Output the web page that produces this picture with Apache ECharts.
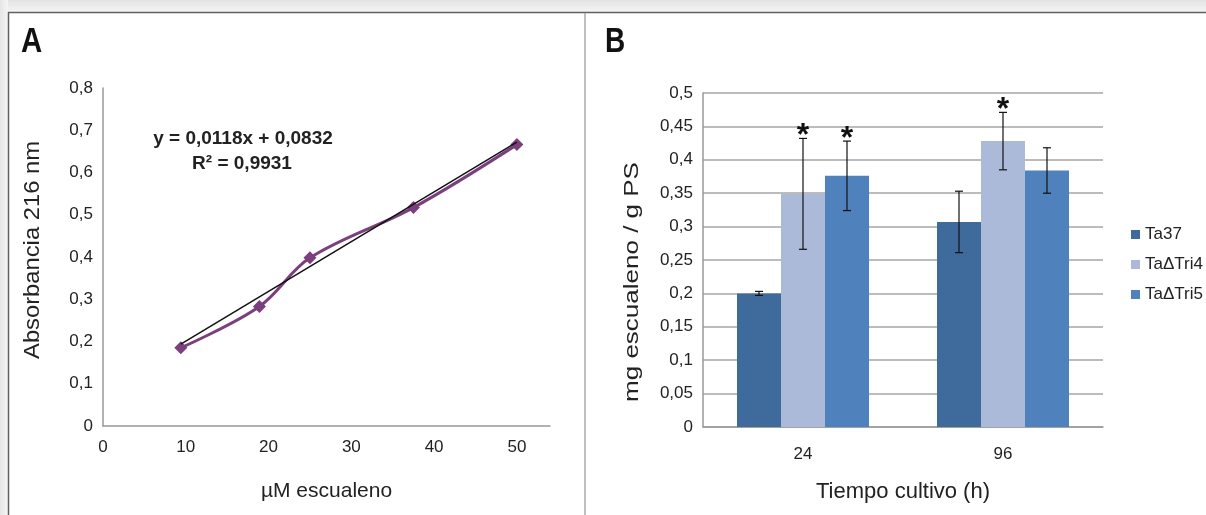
<!DOCTYPE html>
<html>
<head>
<meta charset="utf-8">
<script src="https://cdn.jsdelivr.net/npm/echarts@6/dist/echarts.min.js"></script>
<style>
  html, body { margin: 0; padding: 0; background: #fff; }
  #main { width: 1206px; height: 515px; }
</style>
</head>
<body>
<div id="main"></div>
<script>
// ---- panel A: calibración escualeno ----
var concX = [9.4, 18.9, 25, 37.5, 50];          // µM escualeno
var absY = [0.185, 0.283, 0.398, 0.517, 0.666]; // absorbancia 216 nm
var trendX = [9.4, 50];                         // recta de ajuste (extremos leídos)
var trendY = [0.194, 0.672];

// ---- panel B: escualeno por cepa ----
var categories = ["24", "96"];
var ta37 = [0.200, 0.307];
var ta37Err = [0.003, 0.046];
var tri4 = [0.349, 0.428];
var tri4Err = [0.083, 0.043];
var tri5 = [0.376, 0.384];
var tri5Err = [0.052, 0.034];
var tri4Star = [1, 1];
var tri5Star = [1, 0];
var ta37Star = [0, 0];

var FONT = "'Liberation Sans', Arial, sans-serif";
var colors = ["#3f6a9c", "#aabad8", "#4f81bd"];

function comma(v) {
  return String(v).replace(".", ",");
}

// error bar data: [cat, low, high, serieIdx, star]
function errData(vals, errs, stars, idx) {
  return vals.map(function (v, i) {
    return [i, v - errs[i], v + errs[i], idx, stars[i]];
  });
}

function renderErr(params, api) {
  var cat = api.value(0);
  var lo = api.value(1);
  var hi = api.value(2);
  var idx = api.value(3);
  var star = api.value(4);
  var band = api.size([1, 0])[0];
  var barW = band * 0.22;
  var cx = api.coord([cat, 0])[0] + (idx - 1) * barW;
  var top = api.coord([cat, hi])[1];
  var bot = api.coord([cat, lo])[1];
  var st = { stroke: "#111", lineWidth: 1.2 };
  var children = [
    { type: "line", shape: { x1: cx, y1: top, x2: cx, y2: bot }, style: st },
    { type: "line", shape: { x1: cx - 4, y1: top, x2: cx + 4, y2: top }, style: st },
    { type: "line", shape: { x1: cx - 4, y1: bot, x2: cx + 4, y2: bot }, style: st },
  ];
  if (star) {
    children.push({
      type: "text",
      style: {
        text: "*", x: cx, y: top - 2, align: "center", verticalAlign: "middle",
        font: "bold 32px " + FONT, fill: "#111",
      },
    });
  }
  return { type: "group", children: children };
}

var chart = echarts.init(document.getElementById("main"));

var option = {
  backgroundColor: "#fff",
  animation: false,
  textStyle: { fontFamily: FONT },
  grid: [
    { left: 103, top: 88, width: 447, height: 338 },
    { left: 703, top: 93, width: 400, height: 334 },
  ],
  legend: {
    data: ["Ta37", "TaΔTri4", "TaΔTri5"],
    orient: "vertical",
    left: 1126,
    top: 221,
    itemWidth: 9,
    itemHeight: 9,
    itemGap: 13,
    icon: "rect",
    textStyle: { fontSize: 17, color: "#222", fontFamily: FONT },
  },
  xAxis: [
    {
      type: "value",
      gridIndex: 0,
      min: 0,
      max: 54,
      interval: 10,
      name: "µM escualeno",
      nameLocation: "middle",
      nameGap: 55,
      nameTextStyle: { fontSize: 21, color: "#222" },
      axisLine: { lineStyle: { color: "#999", width: 1.5 } },
      axisTick: { show: false },
      splitLine: { show: false },
      axisLabel: {
        margin: 13, fontSize: 17, color: "#222", showMaxLabel: false,
        formatter: function (v) { return v % 10 === 0 ? v : ""; },
      },
    },
    {
      type: "category",
      gridIndex: 1,
      data: categories,
      name: "Tiempo cultivo (h)",
      nameLocation: "middle",
      nameGap: 54,
      nameTextStyle: { fontSize: 22, color: "#222" },
      axisLine: { lineStyle: { color: "#999", width: 1.5 } },
      axisTick: { show: false },
      axisLabel: { margin: 19, fontSize: 17, color: "#222" },
    },
  ],
  yAxis: [
    {
      type: "value",
      gridIndex: 0,
      min: 0,
      max: 0.8,
      interval: 0.1,
      axisLine: { show: true, lineStyle: { color: "#999", width: 1.5 } },
      axisTick: { show: false },
      splitLine: { show: false },
      axisLabel: { margin: 10, fontSize: 17, color: "#222", formatter: comma },
    },
    {
      type: "value",
      gridIndex: 1,
      min: 0,
      max: 0.5,
      interval: 0.05,
      axisLine: { show: true, lineStyle: { color: "#999", width: 1.5 } },
      axisTick: { show: false },
      splitLine: { lineStyle: { color: "#a6a6a6", width: 1.5 } },
      axisLabel: { margin: 10, fontSize: 17, color: "#222", formatter: comma },
    },
  ],
  series: [
    {
      name: "calibracion",
      type: "line",
      xAxisIndex: 0,
      yAxisIndex: 0,
      data: concX.map(function (x, i) { return [x, absY[i]]; }),
      smooth: 0.35,
      symbol: "diamond",
      symbolSize: 13,
      lineStyle: { color: "#7b3f7e", width: 3 },
      itemStyle: { color: "#7b3f7e" },
      z: 2,
    },
    {
      name: "ajuste",
      type: "line",
      xAxisIndex: 0,
      yAxisIndex: 0,
      data: trendX.map(function (x, i) { return [x, trendY[i]]; }),
      symbol: "none",
      lineStyle: { color: "#111", width: 1.5 },
      z: 3,
    },
    {
      name: "Ta37",
      type: "bar",
      xAxisIndex: 1,
      yAxisIndex: 1,
      data: ta37,
      barWidth: "22%",
      barGap: "0%",
      itemStyle: { color: colors[0] },
    },
    {
      name: "TaΔTri4",
      type: "bar",
      xAxisIndex: 1,
      yAxisIndex: 1,
      data: tri4,
      barWidth: "22%",
      barGap: "0%",
      itemStyle: { color: colors[1] },
    },
    {
      name: "TaΔTri5",
      type: "bar",
      xAxisIndex: 1,
      yAxisIndex: 1,
      data: tri5,
      barWidth: "22%",
      barGap: "0%",
      itemStyle: { color: colors[2] },
    },
    // barras de error + asteriscos
    {
      type: "custom",
      xAxisIndex: 1,
      yAxisIndex: 1,
      renderItem: renderErr,
      data: errData(ta37, ta37Err, ta37Star, 0)
        .concat(errData(tri4, tri4Err, tri4Star, 1))
        .concat(errData(tri5, tri5Err, tri5Star, 2)),
      z: 5,
    },
  ],
  graphic: [
    // marco de la figura
    {
      type: "rect", shape: { x: 0, y: 0, width: 1206, height: 12 }, silent: true,
      style: { fill: new echarts.graphic.LinearGradient(0, 0, 0, 1, [
        { offset: 0, color: "#e3e3e3" }, { offset: 1, color: "#f5f5f5" }]) },
    },
    {
      type: "rect", shape: { x: 0, y: 0, width: 8, height: 515 }, silent: true,
      style: { fill: new echarts.graphic.LinearGradient(0, 0, 1, 0, [
        { offset: 0, color: "#e6e6e6" }, { offset: 1, color: "#f5f5f5" }]) },
    },
    { type: "line", shape: { x1: 8, y1: 12.5, x2: 1206, y2: 12.5 }, style: { stroke: "#606060", lineWidth: 1.5 } },
    { type: "line", shape: { x1: 8.5, y1: 12, x2: 8.5, y2: 515 }, style: { stroke: "#606060", lineWidth: 1.5 } },
    { type: "line", shape: { x1: 585, y1: 13, x2: 585, y2: 515 }, style: { stroke: "#aaaaaa", lineWidth: 1.5 } },
    // letras de panel
    {
      type: "text", x: 21, y: 25, scaleX: 0.84,
      style: { text: "A", font: "bold 35px " + FONT, fill: "#111", verticalAlign: "top" },
    },
    {
      type: "text", x: 605, y: 25, scaleX: 0.8,
      style: { text: "B", font: "bold 35px " + FONT, fill: "#111", verticalAlign: "top" },
    },
    // ecuación de la recta
    {
      type: "text", x: 243, y: 139,
      style: { text: "y = 0,0118x + 0,0832", font: "bold 19px " + FONT, fill: "#222", align: "center", verticalAlign: "middle" },
    },
    {
      type: "text", x: 242, y: 164,
      style: { text: "R² = 0,9931", font: "bold 19px " + FONT, fill: "#222", align: "center", verticalAlign: "middle" },
    },
    // títulos de eje Y (girados)
    {
      type: "text", x: 33, y: 250, rotation: Math.PI / 2, scaleX: 1.08,
      style: { text: "Absorbancia 216 nm", font: "22px " + FONT, fill: "#222", align: "center", verticalAlign: "middle" },
    },
    {
      type: "text", x: 632, y: 282, rotation: Math.PI / 2, scaleX: 1.3,
      style: { text: "mg escualeno / g PS", font: "20px " + FONT, fill: "#222", align: "center", verticalAlign: "middle" },
    },
  ],
};

chart.setOption(option);
window.addEventListener("resize", function () {
  chart.resize();
});
</script>
</body>
</html>
